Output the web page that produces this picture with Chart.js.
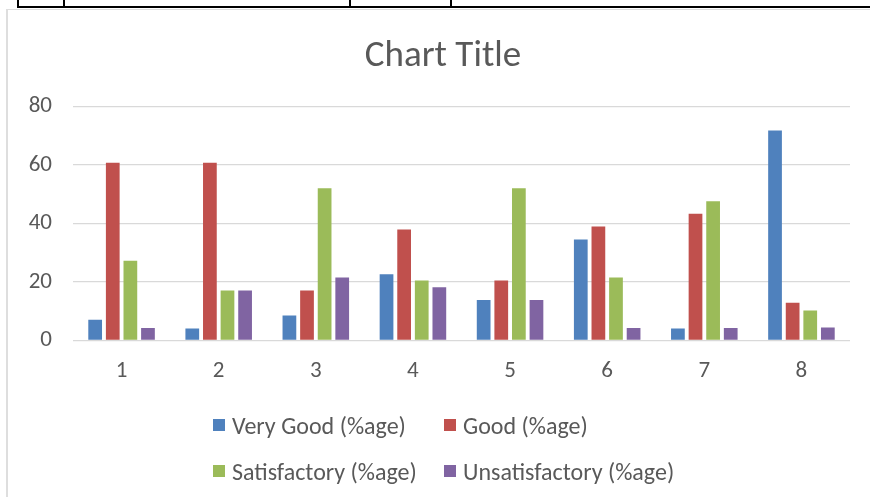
<!DOCTYPE html>
<html>
<head>
<meta charset="utf-8">
<script src="https://cdn.jsdelivr.net/npm/chart.js@4/dist/chart.umd.min.js"></script>
<style>
  html, body { margin: 0; padding: 0; background: #fff; width: 870px; height: 497px; overflow: hidden; }
  .rule { position: absolute; background: #000; }
  #box { position: absolute; left: 6px; top: 9px; width: 880px; height: 500px; border-left: 2px solid #dedede; border-top: 1px solid #dedede; background: #fff; }
  #c { position: absolute; left: 0; top: 0; }
  #legend { position: absolute; left: 0; top: 0; width: 880px; height: 486px; pointer-events: none; font-family: Carlito, Lato, "Liberation Sans", sans-serif; color: #595959; font-size: 24px; }
  .li { position: absolute; display: flex; align-items: center; white-space: nowrap; }
  .sw { width: 12px; height: 12px; margin-right: 7px; flex: none; }
</style>
</head>
<body>
<div class="rule" style="left:17px;top:6px;width:853px;height:2px"></div>
<div class="rule" style="left:17px;top:0;width:2px;height:8px"></div>
<div class="rule" style="left:63px;top:0;width:2px;height:8px"></div>
<div class="rule" style="left:349px;top:0;width:2px;height:8px"></div>
<div class="rule" style="left:450px;top:0;width:2px;height:8px"></div>
<div id="box">
  <canvas id="c" width="880" height="486"></canvas>
  <div id="legend"></div>
</div>
<script>
const categories = ["1", "2", "3", "4", "5", "6", "7", "8"];
const seriesNames = ["Very Good (%age)", "Good (%age)", "Satisfactory (%age)", "Unsatisfactory (%age)"];
const veryGood = [7.1, 4.1, 8.5, 22.6, 13.8, 34.5, 4.1, 71.8];
const good = [60.7, 60.7, 17.1, 37.9, 20.5, 38.9, 43.3, 12.9];
const satisfactory = [27.2, 17.1, 52.0, 20.5, 52.0, 21.5, 47.6, 10.2];
const unsatisfactory = [4.2, 17.1, 21.5, 18.2, 13.8, 4.2, 4.2, 4.4];
const yTicks = [0, 20, 40, 60, 80];
const colors = ["#4F81BD", "#C0504D", "#9BBB59", "#8064A2"];

const FONT = "Carlito, Lato, 'Liberation Sans', sans-serif";
const seriesValues = [veryGood, good, satisfactory, unsatisfactory];

// the visible chart is cut off on the right, so its title sits right of the visible centre
const titleShift = {
  id: 'titleShift',
  afterLayout(chart) {
    const t = chart.titleBlock;
    if (t) { t.left += 14; t.right += 14; }
  }
};

const chart = new Chart(document.getElementById('c'), {
  type: 'bar',
  data: {
    labels: categories,
    datasets: seriesNames.map((n, i) => ({
      label: n,
      data: seriesValues[i],
      backgroundColor: colors[i],
      borderWidth: 0,
      categoryPercentage: 0.725,
      barPercentage: 0.78
    }))
  },
  plugins: [titleShift],
  options: {
    responsive: false,
    animation: false,
    layout: { padding: { left: 0, right: 38, top: 0, bottom: 94 } },
    plugins: {
      legend: { display: false },
      tooltip: { enabled: false },
      title: {
        display: true,
        text: 'Chart Title',
        color: '#595959',
        font: { family: FONT, size: 37, weight: 'normal' },
        padding: { top: 25, bottom: 27 }
      }
    },
    scales: {
      x: {
        grid: { display: false, drawTicks: false },
        border: { display: false },
        ticks: { color: '#595959', font: { family: FONT, size: 23 }, padding: 17 }
      },
      y: {
        min: 0, max: 80,
        afterBuildTicks: (s) => { s.ticks = yTicks.map(v => ({ value: v })); },
        afterFit: (s) => { s.width = 65; },
        grid: { color: '#d9d9d9', lineWidth: 1.2, drawTicks: false },
        border: { display: false },
        ticks: { color: '#595959', font: { family: FONT, size: 23 }, padding: 21 }
      }
    }
  }
});

// legend in two aligned columns, built from the chart's datasets
const leg = document.getElementById('legend');
const pos = [[205, 415], [436, 415], [205, 461], [436, 461]];
chart.data.datasets.forEach((ds, i) => {
  const d = document.createElement('div');
  d.className = 'li';
  d.style.left = pos[i][0] + 'px';
  d.style.top = (pos[i][1] - 14) + 'px';
  d.style.height = '28px';
  d.innerHTML = '<span class="sw" style="background:' + ds.backgroundColor + '"></span><span>' + ds.label + '</span>';
  leg.appendChild(d);
});
</script>
</body>
</html>
